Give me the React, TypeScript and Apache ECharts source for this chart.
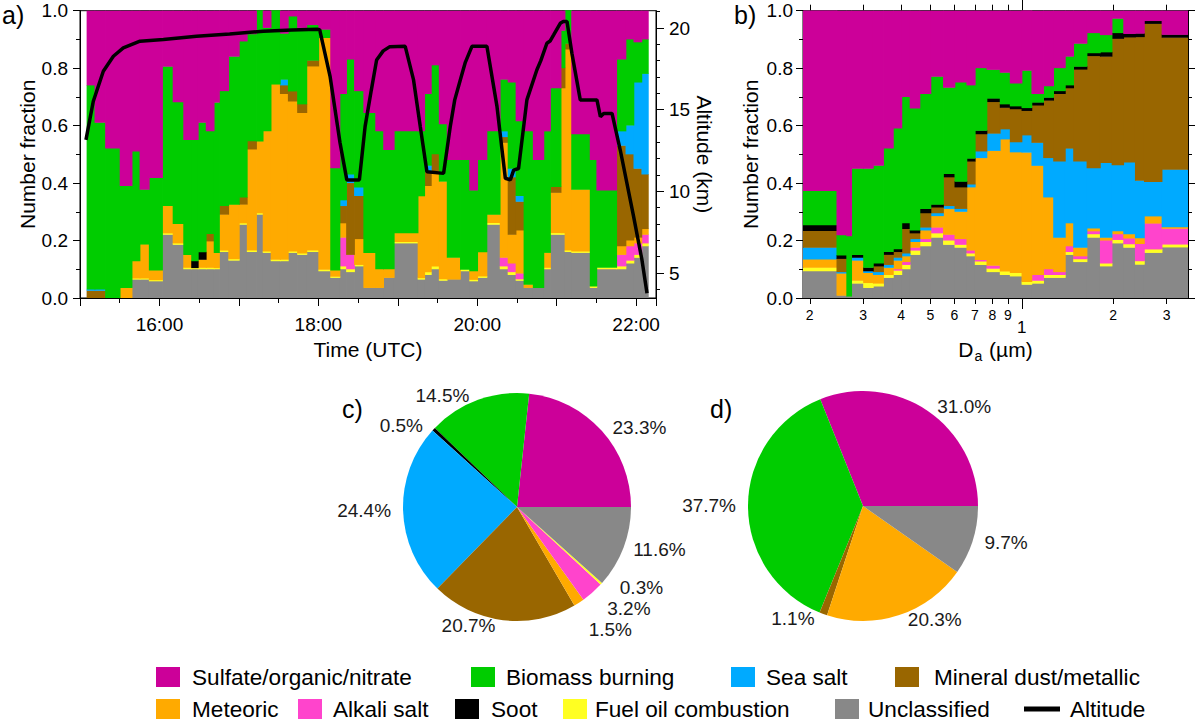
import React, { useEffect, useRef } from "react";
import * as echarts from "echarts";

const FONT = "'Liberation Sans', Arial, Helvetica, sans-serif";

// particle classes
const SULFATE = "Sulfate/organic/nitrate";
const BIOMASS = "Biomass burning";
const SEASALT = "Sea salt";
const MINERAL = "Mineral dust/metallic";
const METEORIC = "Meteoric";
const ALKALI = "Alkali salt";
const SOOT = "Soot";
const FUELOIL = "Fuel oil combustion";
const UNCLASS = "Unclassified";

const colors: Record<string, string> = {
  [SULFATE]: "#cc0099",
  [BIOMASS]: "#00cc00",
  [SEASALT]: "#00aaff",
  [MINERAL]: "#996600",
  [METEORIC]: "#ffaa00",
  [ALKALI]: "#ff44cc",
  [SOOT]: "#000000",
  [FUELOIL]: "#ffff22",
  [UNCLASS]: "#888888",
};

// ---- panel a: time series (minutes after midnight, UTC) ----
const timeEdges = [
  905, 911, 919, 930, 939, 945, 952, 962, 970, 978,
  984, 989, 995, 1001, 1005, 1012, 1020, 1026, 1033, 1038,
  1044, 1051, 1057, 1064, 1071, 1080, 1089, 1096, 1101, 1107,
  1114, 1123, 1129, 1137, 1155, 1160, 1165, 1171, 1177, 1187,
  1194, 1200, 1207, 1217, 1223, 1229, 1235, 1242, 1250, 1255,
  1263, 1266, 1271, 1285, 1290, 1305, 1312, 1318, 1324, 1329.5,
];

const grayA = [0, 0, 0, 0, .064, .064, .058, .22, .185, .10, .10, .10, .10, .10, .16, .13, .255, .16, .29, .157, .128, .128, .157, .15, .16, .093, .07, .10, .09, .11, .035, .035, .07, .19, .064, .08, .10, .06, .064, .093, .058, .07, .255, .10, .08, .06, .035, .035, .10, .22, .22, .16, .157, .035, .10, .10, .12, .14, .18];
const yellowA = [0, 0, 0, 0, .004, .004, .004, .005, .005, .005, .004, .005, .005, .004, .005, .005, .005, .005, .005, .005, .005, .005, .005, .005, .005, .005, .004, .01, .01, .005, 0, 0, 0, .005, .005, .01, .01, .005, 0, .005, .005, .005, .006, .01, .01, .005, 0, 0, .005, .006, .005, .005, .005, .005, .005, .01, .01, .01, .01];
const pinkA = [0, 0, 0, 0, 0, 0, 0, 0, 0, 0, 0, 0, 0, 0, 0, 0, 0, 0, 0, 0, 0, 0, 0, 0, 0, 0, 0, .10, .05, 0, 0, 0, 0, 0, 0, 0, 0, 0, 0, 0, 0, 0, 0, .03, .03, .02, 0, 0, 0, 0, 0, 0, 0, 0, 0, .04, .05, .04, .03];
const orangeA = [0, 0, 0, .035, .06, .118, .034, .095, .068, .045, 0, .028, .092, .053, .125, .19, .065, .352, .25, .418, .61, .577, .522, .489, .641, .807, .022, .05, 0, .09, .122, .065, .03, .03, .285, .30, .33, .34, .076, 0, .03, .084, .029, .40, .10, .15, .011, 0, .052, .14, .505, .70, .215, 0, 0, .03, .02, .02, .02];
const blueA = [.005, .005, 0, 0, 0, 0, 0, 0, 0, 0, 0, 0, 0, 0, 0, 0, 0, 0, 0, 0, 0, .02, 0, 0, 0, 0, 0, .02, .03, .03, 0, 0, 0, 0, 0, .02, 0, 0, 0, 0, 0, 0, 0, .02, .03, .02, 0, 0, 0, 0, 0, 0, 0, 0, 0, .05, .10, .30, .35];
const brownA = [.025, .025, 0, 0, 0, 0, 0, 0, 0, 0, 0, 0, .026, 0, .03, 0, .025, .029, 0, 0, 0, .03, .035, .03, .02, 0, 0, .06, .25, .15, 0, 0, 0, 0, 0, .05, .06, 0, 0, 0, 0, 0, 0, .02, .20, .10, 0, 0, 0, .02, .07, .02, 0, 0, 0, .35, .30, .24, .19];
const blackA = [0, 0, 0, 0, 0, 0, 0, 0, 0, 0, .024, .026, 0, 0, 0, 0, 0, 0, 0, 0, 0, 0, 0, 0, 0, 0, 0, 0, 0, 0, 0, 0, 0, 0, 0, 0, 0, 0, 0, 0, 0, 0, 0, 0, 0, 0, 0, 0, 0, 0, 0, 0, 0, 0, 0, 0, 0, 0, 0];
const greenA = [.71, .58, .52, .355, .382, .191, .322, .485, .423, .40, .422, .451, .357, .523, .40, .515, .543, .372, .455, .36, .257, .16, .261, .266, .124, .029, .356, .37, .40, .335, .487, .48, .415, .355, .226, .25, .31, .20, .34, .382, .281, .321, .29, .18, .30, .26, .534, .445, .423, .344, .13, .115, .193, .44, .269, .25, .30, .14, .12];
const magentaA = [.26, .39, .48, .61, .49, .623, .582, .195, .319, .45, .45, .39, .42, .32, .28, .16, .107, .082, 0, .06, 0, .08, .02, .06, .05, .066, .548, .29, .17, .28, .356, .42, .485, .42, .42, .29, .19, .395, .52, .52, .626, .52, .42, .24, .25, .385, .42, .52, .42, .27, .07, 0, .43, .52, .626, .17, .10, .11, .10];

const altTime = [904.5, 910, 917.6, 925.2, 932.7, 945.3, 963, 988, 1013, 1038.5, 1060, 1079, 1081, 1088.9, 1096.4, 1101.5, 1111, 1115.3, 1120, 1124, 1129, 1134, 1145.6, 1151.9, 1157, 1162, 1174.6, 1179.6, 1183, 1187.2, 1191, 1196, 1207.3, 1214.9, 1221.2, 1225, 1227.5, 1231.2, 1237.5, 1245, 1248, 1252.6, 1255, 1257.7, 1262.7, 1265, 1267.8, 1271.5, 1277.8, 1290.4, 1293, 1295.5, 1301.8, 1308, 1318.1, 1324.4, 1328.2];
const altKm = [13.15, 15.5, 17.35, 18.27, 18.78, 19.19, 19.29, 19.5, 19.64, 19.8, 19.88, 19.92, 19.9, 17.02, 12.96, 10.7, 10.7, 13.96, 16.2, 18.04, 18.6, 18.86, 18.88, 16.82, 13.96, 11.2, 11.1, 13.96, 15.6, 16.82, 17.9, 18.88, 18.88, 15.2, 10.8, 10.7, 11.3, 11.4, 15.6, 17.43, 18.0, 19.07, 19.2, 19.58, 20.29, 20.4, 20.4, 18.45, 15.6, 15.6, 14.57, 14.77, 14.77, 12.53, 8.45, 5.8, 3.76];

const altLabels = [5, 10, 15, 20];
const altMinor = [4, 6, 7, 8, 9, 11, 12, 13, 14, 16, 17, 18, 19, 21];

// ---- panel b: size distribution (aerodynamic diameter, µm) ----
const sizeEdges = [0.19, 0.245, 0.264, 0.274, 0.30, 0.323, 0.349, 0.376, 0.401, 0.427, 0.46, 0.50, 0.55, 0.60, 0.657, 0.70, 0.765, 0.846, 0.913, 0.998, 1.076, 1.176, 1.269, 1.387, 1.477, 1.635, 1.809, 1.977, 2.16, 2.36, 2.527, 2.89, 3.53];

const grayB = [.093, .008, .005, .05, .035, .04, .07, .08, .10, .15, .18, .21, .185, .175, .145, .115, .09, .08, .075, .046, .05, .07, .07, .15, .125, .21, .11, .19, .175, .116, .157, .176];
const yellowB = [.012, 0, 0, .01, .017, .01, .01, .015, .015, .015, .015, .015, .015, .01, .01, .012, .012, .012, .012, .01, .01, .01, .01, .01, .01, .012, .01, .012, .012, .012, .012, .01];
const pinkB = [0, 0, 0, 0, 0, 0, 0, .005, .01, .01, .01, .02, .02, .02, .01, .005, .01, 0, 0, 0, .02, .02, .01, .02, .01, .01, .08, .02, .02, .06, .09, .055];
const orangeB = [.029, .077, 0, .07, .035, .03, .025, .03, .02, .02, .03, .04, .09, .095, .22, .355, .40, .46, .42, .45, .38, .25, .12, .08, .03, .01, .01, .01, .015, .02, .025, .005];
const blueB = [.041, .005, 0, .01, .006, .01, .01, .01, .01, .01, .01, .01, .01, .01, .01, .023, .06, .035, .035, .06, .08, .137, .265, .26, .30, .21, .26, .23, .25, .20, .12, .20];
const brownB = [.058, .046, 0, 0, 0, .02, .035, .02, .085, .02, .05, .02, .10, .075, .08, .06, .11, .075, .115, .085, .13, .20, .235, .21, .32, .39, .37, .44, .435, .50, .55, .46];
const blackB = [.020, .012, 0, .01, .012, .01, .01, .01, .02, .01, .015, .01, .012, .02, .01, .012, .012, .012, .01, .01, .01, .01, .01, .01, .01, .01, .015, .02, .012, .012, .01, .01];
const greenB = [.119, .07, .21, .30, .345, .34, .36, .42, .44, .425, .40, .445, .30, .345, .255, .218, .10, .11, .08, .13, .03, .04, .08, .10, .08, .07, .06, .05, 0, 0, 0, 0];
const magentaB = [.629, .782, .785, .55, .55, .54, .48, .41, .30, .34, .29, .23, .268, .25, .26, .20, .206, .216, .253, .21, .29, .263, .20, .16, .115, .078, .085, .028, .081, .08, .036, .084];

const sizeMinorTicks = [0.2, 0.3, 0.4, 0.5, 0.6, 0.7, 0.8, 0.9, 2, 3];
const sizeMajorTicks = [1];

// ---- pies ----
const pieCNames = [SULFATE, BIOMASS, SOOT, SEASALT, MINERAL, METEORIC, ALKALI, FUELOIL, UNCLASS];
const pieCValues = [23.3, 14.5, 0.5, 24.4, 20.7, 1.5, 3.2, 0.3, 11.6];
const pieDNames = [SULFATE, BIOMASS, MINERAL, METEORIC, UNCLASS];
const pieDValues = [31.0, 37.7, 1.1, 20.3, 9.7];

// stacking order, bottom to top
const layersA: [string, number[]][] = [
  [UNCLASS, grayA], [FUELOIL, yellowA], [ALKALI, pinkA], [METEORIC, orangeA],
  [MINERAL, brownA], [SEASALT, blueA], [SOOT, blackA], [BIOMASS, greenA], [SULFATE, magentaA],
];
const layersB: [string, number[]][] = [
  [UNCLASS, grayB], [FUELOIL, yellowB], [ALKALI, pinkB], [METEORIC, orangeB],
  [SEASALT, blueB], [MINERAL, brownB], [SOOT, blackB], [BIOMASS, greenB], [SULFATE, magentaB],
];

function stackSeries(edges: number[], layers: [string, number[]][], xi: number, yi: number) {
  const base = edges.slice(0, -1).map(() => 0);
  return layers.map(([name, vals], li) => {
    const data: number[][] = [];
    vals.forEach((v, i) => {
      if (v > 0) data.push([edges[i], edges[i + 1], base[i], base[i] + v, i]);
      base[i] += v;
    });
    const color = colors[name];
    const nBins = edges.length - 1;
    return {
      type: "custom",
      name,
      xAxisIndex: xi,
      yAxisIndex: yi,
      silent: true,
      z: 2 + li * 0.01,
      encode: { x: [0, 1], y: [2, 3] },
      renderItem: (_p: any, api: any) => {
        const a = api.coord([api.value(0), api.value(2)]);
        const b = api.coord([api.value(1), api.value(3)]);
        // small overlap hides anti-aliasing seams between neighbouring rects
        const padR = api.value(4) < nBins - 1 ? 0.8 : 0;
        const padT = li < layers.length - 1 ? 0.5 : 0;
        return {
          type: "rect",
          shape: { x: a[0], y: b[1] - padT, width: b[0] - a[0] + padR, height: a[1] - b[1] + padT },
          style: { fill: color },
        };
      },
      data,
    };
  });
}

const txt = { color: "#000", fontFamily: FONT };
const blackLine = { lineStyle: { color: "#000", width: 1 } };

function fmtClock(v: number) {
  if ((v - 960) % 120 !== 0) return "";
  return `${Math.floor(v / 60)}:00`;
}

const legendLayout = [
  { name: SULFATE, sx: 156, tx: 192, y: 677 },
  { name: BIOMASS, sx: 471, tx: 506, y: 677 },
  { name: SEASALT, sx: 731, tx: 766, y: 677 },
  { name: MINERAL, sx: 895, tx: 934, y: 677 },
  { name: METEORIC, sx: 156, tx: 192, y: 709 },
  { name: ALKALI, sx: 298, tx: 333, y: 709 },
  { name: SOOT, sx: 455, tx: 491, y: 709 },
  { name: FUELOIL, sx: 563, tx: 595, y: 709 },
  { name: UNCLASS, sx: 835, tx: 868, y: 709 },
];

export default function App() {
  const ref = useRef<HTMLDivElement>(null);

  useEffect(() => {
    if (!ref.current) return;
    const chart = echarts.init(ref.current, undefined, { renderer: "svg" });

    const graphics: any[] = [
      { type: "text", left: 2, top: 2, style: { text: "a)", fontSize: 25, fill: "#000", fontFamily: FONT } },
      { type: "text", left: 734, top: 2, style: { text: "b)", fontSize: 25, fill: "#000", fontFamily: FONT } },
      { type: "text", left: 342, top: 396, style: { text: "c)", fontSize: 25, fill: "#000", fontFamily: FONT } },
      { type: "text", left: 710, top: 396, style: { text: "d)", fontSize: 25, fill: "#000", fontFamily: FONT } },
    ];
    legendLayout.forEach((it) => {
      graphics.push({ type: "rect", shape: { x: it.sx, y: it.y - 10, width: 24, height: 20 }, style: { fill: colors[it.name] } });
      graphics.push({
        type: "text", x: it.tx, y: it.y,
        style: { text: it.name, fontSize: 22.6, fill: "#000", fontFamily: FONT, verticalAlign: "middle" },
      });
    });
    graphics.push({ type: "line", shape: { x1: 1024, y1: 709, x2: 1060, y2: 709 }, style: { stroke: "#000", lineWidth: 5 } });
    graphics.push({
      type: "text", x: 1070, y: 709,
      style: { text: "Altitude", fontSize: 22.6, fill: "#000", fontFamily: FONT, verticalAlign: "middle" },
    });

    const pieCommon = {
      type: "pie",
      startAngle: 0,
      clockwise: false,
      silent: true,
      avoidLabelOverlap: true,
      emphasis: { disabled: true },
      label: {
        show: true,
        position: "outside",
        fontSize: 19,
        color: "#1a1a1a",
        fontFamily: FONT,
        formatter: (p: any) => `${p.value.toFixed(1)}%`,
      },
      labelLine: { show: false, length: 5, length2: 2 },
    };

    const gridBase = {
      show: true, borderColor: "#000", borderWidth: 1, backgroundColor: "transparent",
      containLabel: false, outerBoundsMode: "none",
    };

    const option: any = {
      animation: false,
      backgroundColor: "#fff",
      textStyle: { fontFamily: FONT },
      grid: [
        { ...gridBase, left: 80, top: 10.7, width: 576, height: 287.3 },
        { ...gridBase, left: 803, top: 10.7, width: 385, height: 287.3 },
      ],
      xAxis: [
        {
          gridIndex: 0, type: "value", position: "bottom", min: 900, max: 1335, interval: 60,
          axisLine: { onZero: false, ...blackLine },
          axisTick: { length: 8, ...blackLine },
          minorTick: { show: true, splitNumber: 2, length: 5, ...blackLine },
          axisLabel: { formatter: fmtClock, margin: 17, fontSize: 19, ...txt },
          splitLine: { show: false },
          name: "Time (UTC)", nameLocation: "middle", nameGap: 41,
          nameTextStyle: { fontSize: 21, ...txt },
        },
        {
          gridIndex: 1, type: "log", logBase: 10, min: 0.19, max: 3.53, position: "bottom",
          axisLine: { onZero: false, ...blackLine },
          axisTick: { show: true, customValues: sizeMinorTicks, length: 6, ...blackLine },
          axisLabel: {
            customValues: sizeMinorTicks, margin: 10, fontSize: 14, ...txt,
            formatter: (v: number) => String(Math.round(v < 1 ? v * 10 : v)),
          },
          minorTick: { show: false },
          splitLine: { show: false },
        },
        {
          gridIndex: 1, type: "log", logBase: 10, min: 0.19, max: 3.53, position: "bottom",
          axisLine: { show: false, onZero: false },
          axisTick: { show: true, customValues: sizeMajorTicks, length: 11, ...blackLine },
          axisLabel: { customValues: sizeMajorTicks, margin: 21, fontSize: 17, ...txt, formatter: (v: number) => String(Math.round(v)) },
          splitLine: { show: false },
          name: "{d|D}{s|a}{d| (µm)}", nameLocation: "middle", nameGap: 38,
          nameTextStyle: {
            ...txt,
            rich: {
              d: { fontSize: 21, fontFamily: FONT, color: "#000", lineHeight: 26 },
              s: { fontSize: 14, fontFamily: FONT, color: "#000", lineHeight: 26, padding: [12, 1, 0, 1] },
            },
          },
        },
        {
          gridIndex: 1, type: "log", logBase: 10, min: 0.19, max: 3.53, position: "top",
          axisLine: { show: false, onZero: false },
          axisTick: { show: true, customValues: sizeMinorTicks, length: 6, ...blackLine },
          axisLabel: { show: false },
          splitLine: { show: false },
        },
        {
          gridIndex: 1, type: "log", logBase: 10, min: 0.19, max: 3.53, position: "top",
          axisLine: { show: false, onZero: false },
          axisTick: { show: true, customValues: sizeMajorTicks, length: 11, ...blackLine },
          axisLabel: { show: false },
          splitLine: { show: false },
        },
      ],
      yAxis: [
        {
          gridIndex: 0, type: "value", position: "left", min: 0, max: 1, interval: 0.2,
          axisLine: { show: true, onZero: false, ...blackLine },
          axisTick: { show: true, length: 7, ...blackLine },
          minorTick: { show: true, splitNumber: 2, length: 4, ...blackLine },
          axisLabel: { formatter: (v: number) => v.toFixed(1), margin: 12, fontSize: 19, ...txt },
          splitLine: { show: false },
          name: "Number fraction", nameLocation: "middle", nameGap: 42,
          nameTextStyle: { fontSize: 21, ...txt },
        },
        {
          gridIndex: 0, type: "value", position: "right", min: 3.47, max: 21.06,
          axisLine: { show: true, onZero: false, ...blackLine },
          axisTick: { show: true, customValues: altLabels, length: 8, ...blackLine },
          axisLabel: { customValues: altLabels, margin: 13, fontSize: 19, ...txt },
          splitLine: { show: false },
          name: "Altitude (km)", nameLocation: "middle", nameGap: 36, nameRotate: -90,
          nameTextStyle: { fontSize: 21, ...txt },
        },
        {
          gridIndex: 0, type: "value", position: "right", min: 3.47, max: 21.06,
          axisLine: { show: false, onZero: false },
          axisTick: { show: true, customValues: altMinor, length: 4, ...blackLine },
          axisLabel: { show: false },
          splitLine: { show: false },
        },
        {
          gridIndex: 1, type: "value", position: "left", min: 0, max: 1, interval: 0.2,
          axisLine: { show: true, onZero: false, ...blackLine },
          axisTick: { show: true, length: 7, ...blackLine },
          minorTick: { show: true, splitNumber: 2, length: 4, ...blackLine },
          axisLabel: { formatter: (v: number) => v.toFixed(1), margin: 10, fontSize: 19, ...txt },
          splitLine: { show: false },
          name: "Number fraction", nameLocation: "middle", nameGap: 42,
          nameTextStyle: { fontSize: 21, ...txt },
        },
        {
          gridIndex: 1, type: "value", position: "right", min: 0, max: 1, interval: 0.2,
          axisLine: { show: true, onZero: false, ...blackLine },
          axisTick: { show: true, length: 7, ...blackLine },
          minorTick: { show: true, splitNumber: 2, length: 4, ...blackLine },
          axisLabel: { show: false },
          splitLine: { show: false },
        },
      ],
      series: [
        ...stackSeries(timeEdges, layersA, 0, 0),
        {
          type: "line", name: "Altitude", xAxisIndex: 0, yAxisIndex: 1, z: 10, silent: true,
          showSymbol: false, symbol: "none",
          lineStyle: { color: "#000", width: 3.5 },
          data: altTime.map((t, i) => [t, altKm[i]]),
        },
        ...stackSeries(sizeEdges, layersB, 1, 3),
        {
          ...pieCommon,
          name: "c",
          center: [517, 507],
          radius: 114,
          data: pieCNames.map((n, i) => ({ name: n, value: pieCValues[i], itemStyle: { color: colors[n] } })),
        },
        {
          ...pieCommon,
          name: "d",
          center: [863, 506],
          radius: 115,
          data: pieDNames.map((n, i) => ({ name: n, value: pieDValues[i], itemStyle: { color: colors[n] } })),
        },
      ],
      graphic: graphics,
    };

    chart.setOption(option);
    return () => chart.dispose();
  }, []);

  return <div ref={ref} style={{ position: "absolute", left: 0, top: 0, width: 1200, height: 724 }} />;
}
